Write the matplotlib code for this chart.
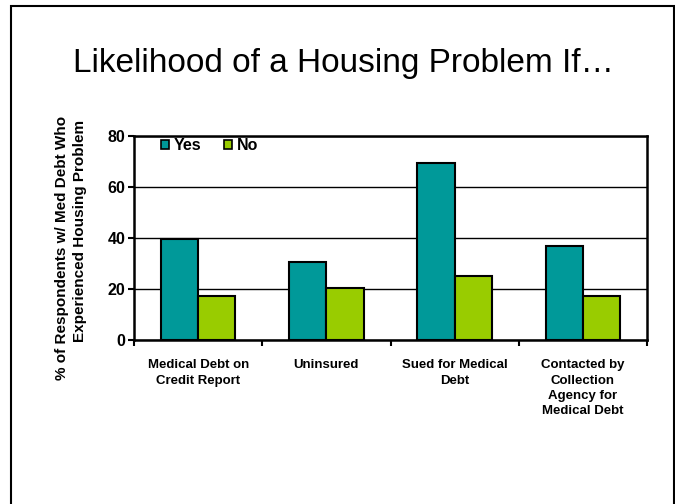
import numpy as np
import matplotlib
matplotlib.use("Agg")
import matplotlib.pyplot as plt
import matplotlib.patches as mpatches

plt.rcParams["font.family"] = ["Liberation Sans", "DejaVu Sans"]

# data
categories = ["Medical Debt on\nCredit Report", "Uninsured", "Sued for Medical\nDebt",
              "Contacted by\nCollection\nAgency for\nMedical Debt"]
yes_vals = [39.5, 30.7, 69.3, 36.9]
no_vals = [17.4, 20.3, 25.2, 17.3]
series_names = ["Yes", "No"]
yticks = [0, 20, 40, 60, 80]

TEAL = "#009999"
GREEN = "#99CC00"

W, H = 675, 504
fig = plt.figure(figsize=(W / 100, H / 100), dpi=100)

# slide border
fig.patches.append(mpatches.Rectangle((11 / W, -0.02), (673.5 - 11) / W, (H - 6) / H + 0.02,
                                      fill=False, lw=1.5, ec="black", transform=fig.transFigure))

fig.text(0.5 * (77 + 610) / W, 1 - 72 / H, "Likelihood of a Housing Problem If…",
         ha="center", va="baseline", fontsize=24)

ax = fig.add_axes([134 / W, (H - 340) / H, (647 - 134) / W, (340 - 136) / H])
x = np.arange(len(categories))
bw = 0.29
ax.bar(x - bw / 2, yes_vals, bw, color=TEAL, edgecolor="black", lw=1.5, zorder=3)
ax.bar(x + bw / 2, no_vals, bw, color=GREEN, edgecolor="black", lw=1.5, zorder=3)

ax.set_xlim(-0.5, len(categories) - 0.5)
ax.set_ylim(0, 80)
ax.set_yticks(yticks)
ax.set_yticklabels([str(v) for v in yticks], fontsize=11.5, fontweight="bold")
ax.yaxis.grid(True, color="black", lw=1, zorder=0)
ax.tick_params(axis="y", length=4, width=1.5, direction="out", pad=2)

ax.set_xticks(x)
ax.set_xticklabels(categories, fontsize=9.5, fontweight="bold", linespacing=1.35, va="top")
ax.tick_params(axis="x", which="major", length=0, pad=14)
ax.set_xticks(np.arange(-0.5, len(categories)), minor=True)
ax.tick_params(axis="x", which="minor", length=4, width=1.5, direction="out")

for s in ax.spines.values():
    s.set_linewidth(1.8)

handles = [mpatches.Patch(facecolor=TEAL, edgecolor="black", lw=1.2, label=series_names[0]),
           mpatches.Patch(facecolor=GREEN, edgecolor="black", lw=1.2, label=series_names[1])]
ax.legend(handles=handles, loc="upper left", bbox_to_anchor=(0.04, 1.02), ncol=2, frameon=False,
          handlelength=0.5, handleheight=0.5, handletextpad=0.3, columnspacing=1.4,
          prop={"weight": "bold", "size": 11.5}, borderaxespad=0)

fig.text(62 / W, 1 - 248 / H, "% of Respondents w/ Med Debt Who", rotation=90,
         ha="center", va="center", fontsize=11, fontweight="bold")
fig.text(80 / W, 1 - 231 / H, "Experienced Housing Problem", rotation=90,
         ha="center", va="center", fontsize=11, fontweight="bold")

fig.savefig("out.png", dpi=100)
